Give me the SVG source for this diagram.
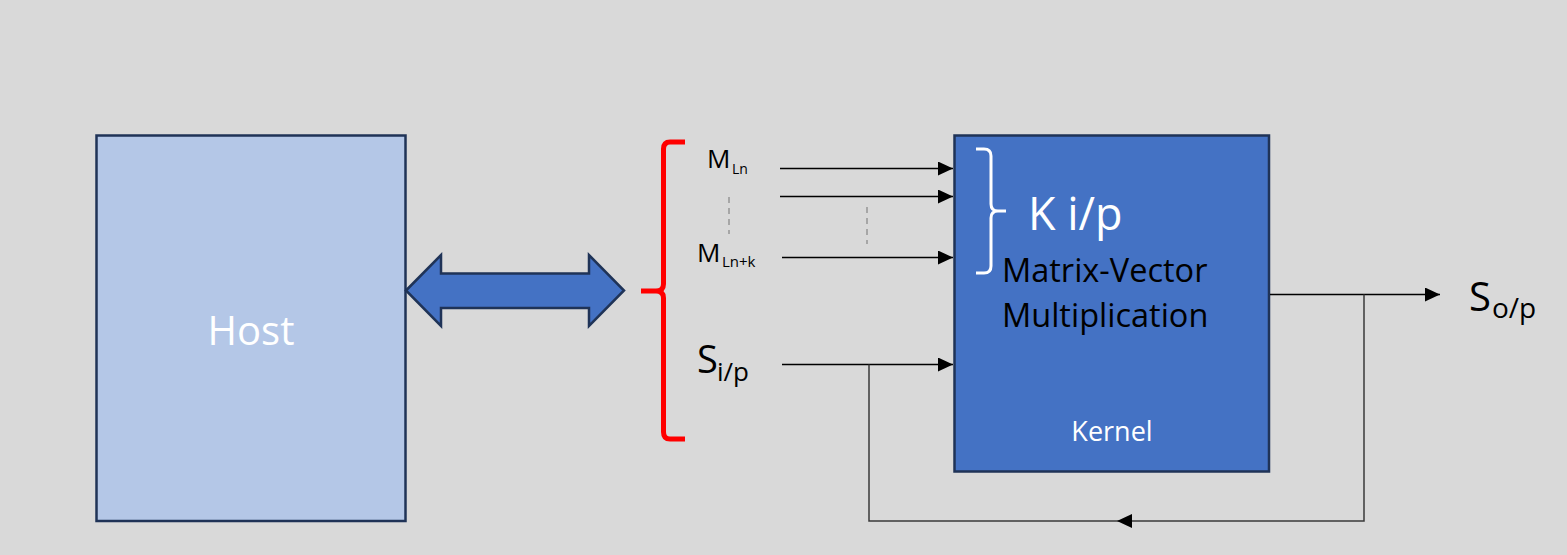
<svg xmlns="http://www.w3.org/2000/svg" width="1567" height="555" viewBox="0 0 1567 555">
<style>
.t{font-family:"Open Sans","Liberation Sans",sans-serif;}
.w{fill:#ffffff;}
.k{fill:#000000;}
.ln{stroke:#000;stroke-width:1.5;fill:none;}
.fb{stroke:#3a3a3a;stroke-width:1.5;fill:none;}
.dash{stroke:#a6a6a6;stroke-width:2;stroke-dasharray:6,5;fill:none;}
</style>
<defs>
<marker id="ah" viewBox="0 0 15 14" refX="15" refY="7" markerWidth="15" markerHeight="14" orient="auto" markerUnits="userSpaceOnUse">
<path d="M0,0 L15,7 L0,14 Z" fill="#000"/>
</marker>
</defs>
<rect x="0" y="0" width="1567" height="555" fill="#d9d9d9"/>

<g id="host">
<rect x="96.5" y="135.5" width="309" height="385.5" fill="#b4c7e7" stroke="#1f3357" stroke-width="2.5"/>
<text class="t w" x="251" y="345" font-size="40" text-anchor="middle">Host</text>
</g>

<g id="bus">
<polygon points="406,290.5 441,255 441,273.5 589,273.5 589,255 624,290.5 589,326 589,308 441,308 441,326" fill="#4472c4" stroke="#1f3357" stroke-width="2.5" stroke-linejoin="miter"/>
</g>

<g id="inputs">
<path d="M685,142 H670 Q663.5,142 663.5,149 V284 Q663.5,291 656,291 H641 M656,291 Q663.5,291 663.5,298 V432 Q663.5,439 670,439 H685" fill="none" stroke="#ff0000" stroke-width="5"/>
<text class="t k" x="707" y="168" font-size="26">M</text>
<text class="t k" x="732" y="174" font-size="14">Ln</text>
<text class="t k" x="697" y="262" font-size="26">M</text>
<text class="t k" x="722" y="267" font-size="15">Ln+k</text>
<text class="t k" x="697" y="373" font-size="38">S</text>
<text class="t k" x="717" y="381" font-size="26">i/p</text>
<line class="dash" x1="729" y1="197" x2="729" y2="234"/>
<line class="dash" x1="867" y1="207" x2="867" y2="244"/>
</g>

<g id="kernel">
<rect x="954.5" y="135.5" width="314.5" height="336" fill="#4472c4" stroke="#1f3357" stroke-width="2.5"/>
<path d="M976,149 H984 Q991,149 991,156 V204 Q991,211 998,211 H1006 M998,211 Q991,211 991,218 V266 Q991,273 984,273 H976" fill="none" stroke="#ffffff" stroke-width="3"/>
<text class="t w" x="1028" y="230" font-size="45">K i/p</text>
<text class="t k" x="1002" y="282" font-size="32.5">Matrix-Vector</text>
<text class="t k" x="1002" y="327" font-size="32.5">Multiplication</text>
<text class="t w" x="1112" y="441" font-size="27" text-anchor="middle">Kernel</text>
</g>

<g id="output">
<text class="t k" x="1469" y="311" font-size="40">S</text>
<text class="t k" x="1492" y="318" font-size="28">o/p</text>
</g>

<g id="connectors">
<line class="ln" x1="780" y1="168.5" x2="953" y2="168.5" marker-end="url(#ah)"/>
<line class="ln" x1="780" y1="196.5" x2="953" y2="196.5" marker-end="url(#ah)"/>
<line class="ln" x1="782" y1="257.5" x2="953" y2="257.5" marker-end="url(#ah)"/>
<line class="ln" x1="782" y1="364.5" x2="953" y2="364.5" marker-end="url(#ah)"/>
<line class="ln" x1="1270" y1="294.5" x2="1440" y2="294.5" marker-end="url(#ah)"/>
<path class="fb" d="M1364,294.5 V521 H1117" marker-end="url(#ah)"/>
<path class="fb" d="M1117,521 H869 V364.5"/>
</g>
</svg>
